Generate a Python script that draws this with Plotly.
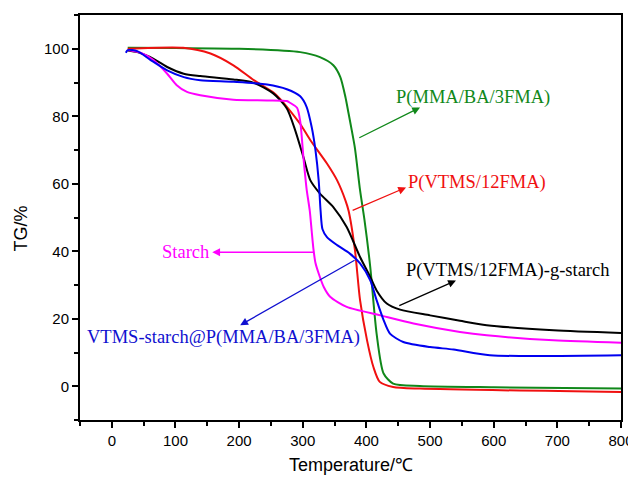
import plotly.graph_objects as go

# ---- data ----
green_T = [25, 100, 200, 296, 327, 348, 359, 367, 372, 377, 382, 390, 397, 406, 416, 427, 442, 484, 600, 800]
green_TG = [100.3, 100.2, 100.0, 99.0, 97.5, 95.1, 91.6, 85.7, 80.8, 75.8, 70.5, 58.1, 49.2, 35.4, 15.6, 3.8, 0.8, 0.1, -0.3, -0.7]

red_T = [25, 112, 155, 191, 223, 254, 264, 275, 296, 312, 338, 354, 367, 372, 382, 390, 401, 411, 421, 442, 484, 800]
red_TG = [100.0, 100.3, 98.6, 95.1, 90.7, 87.0, 85.2, 82.8, 77.7, 72.9, 66.0, 61.0, 55.1, 52.0, 40.3, 25.5, 13.6, 5.7, 1.3, -0.2, -0.7, -1.7]

black_T = [25, 40, 60, 87, 113, 139, 191, 223, 254, 275, 288, 301, 312, 327, 348, 369, 390, 406, 416, 432, 453, 500, 547, 589, 694, 800]
black_TG = [99.5, 99.0, 97.6, 94.6, 92.6, 91.9, 90.9, 89.9, 86.7, 82.3, 75.9, 67.9, 61.0, 57.1, 53.1, 47.2, 38.3, 32.4, 28.4, 24.5, 22.7, 21.0, 19.4, 18.1, 16.6, 15.8]

blue_T = [22, 25, 40, 60, 87, 113, 139, 191, 244, 275, 296, 306, 314, 320, 325, 328, 331, 338, 354, 374, 390, 406, 416, 427, 437, 458, 500, 537, 594, 800]
blue_TG = [98.8, 99.6, 99.3, 96.8, 93.6, 91.6, 90.7, 90.2, 89.4, 88.0, 85.9, 82.8, 76.8, 69.9, 61.0, 52.0, 46.5, 44.2, 41.8, 39.3, 36.4, 31.4, 25.5, 19.6, 15.6, 13.1, 11.6, 10.9, 9.2, 9.2]

starch_T = [25, 45, 66, 87, 102, 118, 139, 191, 244, 275, 280, 291, 296, 301, 306, 311, 314, 317, 320, 325, 333, 343, 369, 422, 474, 547, 589, 694, 800]
starch_TG = [99.6, 98.8, 96.6, 92.6, 89.2, 87.2, 86.2, 84.9, 84.7, 84.5, 84.0, 82.5, 78.5, 67.9, 58.5, 52.0, 46.0, 40.3, 36.5, 33.4, 29.4, 26.5, 23.5, 21.0, 18.6, 16.1, 15.1, 13.6, 12.9]

x_ticks = [0, 100, 200, 300, 400, 500, 600, 700, 800]
y_ticks = [0, 20, 40, 60, 80, 100]

series = [
    ("P(MMA/BA/3FMA)", green_T, green_TG, "#10881a"),
    ("P(VTMS/12FMA)", red_T, red_TG, "#f01010"),
    ("P(VTMS/12FMA)-g-starch", black_T, black_TG, "#000000"),
    ("Starch", starch_T, starch_TG, "#ff00ff"),
    ("VTMS-starch@P(MMA/BA/3FMA)", blue_T, blue_TG, "#0000f0"),
]

fig = go.Figure()
for name, xs, ys, col in series:
    fig.add_trace(go.Scatter(x=xs, y=ys, mode="lines", name=name,
                             line=dict(color=col, width=2, shape="spline", smoothing=0.7),
                             showlegend=False))

serif = "Liberation Serif, Times New Roman, serif"
# (label, text pos, arrow tail, arrow head, colour)
labels = [
    ("P(MMA/BA/3FMA)", (567, 85.6), (386.5, 73.4), (484.3, 82.6), "#10881a"),
    ("P(VTMS/12FMA)", (574, 60.4), (376, 51.9), (462.3, 58.9), "#f01010"),
    ("Starch", (115, 39.7), (319.5, 39.7), (157.8, 39.7), "#ff00ff"),
    ("VTMS-starch@P(MMA/BA/3FMA)", (175, 14.5), (383.8, 37.6), (201.7, 18.1), "#1010d0"),
    ("P(VTMS/12FMA)-g-starch", (622, 34.4), (449.3, 23.7), (540.7, 31.3), "#000000"),
]
for text, (tx, ty), (ax, ay), (hx, hy), col in labels:
    fig.add_annotation(x=tx, y=ty, xref="x", yref="y", text=text, showarrow=False,
                       font=dict(family=serif, size=18.5, color=col))
    fig.add_annotation(x=hx, y=hy, ax=ax, ay=ay, xref="x", yref="y", axref="x", ayref="y",
                       text="", showarrow=True, arrowhead=2, arrowsize=1.2, arrowwidth=1.3,
                       arrowcolor=col)

sans = "Liberation Sans, Arial, sans-serif"
fig.add_annotation(x=0.5, y=0, xref="paper", yref="paper", yshift=-45, text="Temperature/℃",
                   xanchor="center", yanchor="middle",
                   showarrow=False, font=dict(family=sans, size=18, color="#000"))
fig.add_annotation(x=0, y=0.473, xref="paper", yref="paper", xshift=-59, text="TG/%",
                   xanchor="center", yanchor="middle",
                   textangle=-90, showarrow=False, font=dict(family=sans, size=18, color="#000"))

fig.update_xaxes(range=[-50, 800], tickvals=x_ticks, ticks="outside", ticklen=6, tickwidth=2,
                 tickcolor="#000", showline=True, linewidth=2, linecolor="#000", mirror=True,
                 showgrid=False, zeroline=False, automargin=False,
                 minor=dict(ticks="outside", dtick=50, tick0=0, ticklen=4, tickwidth=2, tickcolor="#000", showgrid=False),
                 tickfont=dict(family=sans, size=15, color="#000"))
fig.update_yaxes(range=[-10, 110], tickvals=y_ticks, ticks="outside", ticklen=6, tickwidth=2,
                 tickcolor="#000", showline=True, linewidth=2, linecolor="#000", mirror=True,
                 showgrid=False, zeroline=False, automargin=False,
                 minor=dict(ticks="outside", dtick=10, tick0=0, ticklen=4, tickwidth=2, tickcolor="#000", showgrid=False),
                 tickfont=dict(family=sans, size=15, color="#000"))

# the page body adds an 8px offset, so the figure is sized/positioned to compensate
fig.update_layout(width=628, height=469, margin=dict(l=71.5, r=15, t=6.7, b=57.3, autoexpand=False),
                  plot_bgcolor="white", paper_bgcolor="white")

fig.write_html("out.html")
